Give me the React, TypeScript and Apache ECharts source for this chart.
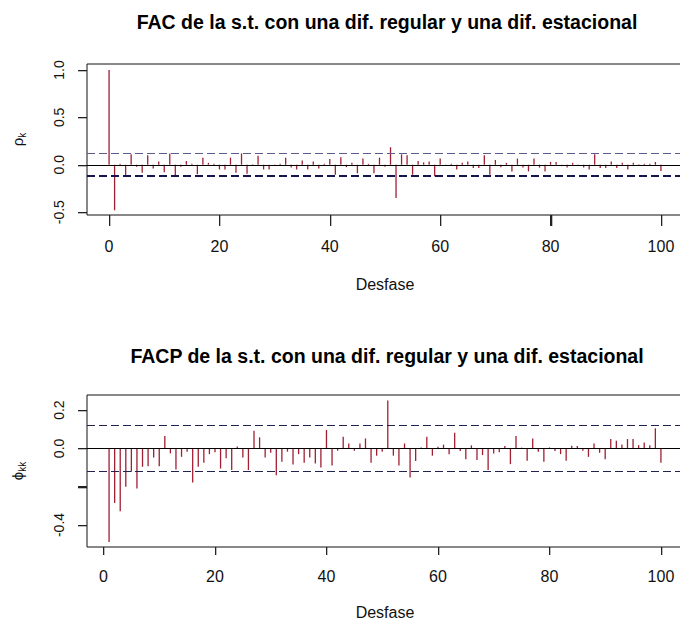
import React, { useEffect, useRef } from "react";
import * as echarts from "echarts";

const acfLags: number[] = Array.from({ length: 101 }, (_, i) => i);
const acfValues: number[] = [
  1.0, -0.48, 0.01, -0.11, 0.11, -0.02, -0.085, 0.1, -0.04, 0.035,
  -0.08, 0.12, -0.11, -0.02, 0.04, 0.01, -0.1, 0.075, 0.02, 0.01,
  -0.05, -0.05, 0.075, -0.085, 0.12, -0.095, 0.005, 0.095, -0.05, -0.05,
  -0.01, 0.01, 0.075, -0.03, -0.05, 0.045, -0.05, 0.035, -0.04, 0.01,
  0.06, -0.105, 0.08, -0.025, 0.02, -0.09, 0.065, 0.01, -0.09, 0.075,
  -0.02, 0.185, -0.35, 0.11, 0.1, -0.105, 0.04, 0.025, 0.035, -0.12,
  0.065, -0.005, 0.01, -0.05, 0.02, 0.035, -0.035, -0.035, 0.1, -0.105,
  0.05, -0.025, 0.02, -0.07, 0.065, -0.03, -0.07, 0.065, -0.03, -0.07,
  0.03, 0.03, -0.015, -0.03, 0.02, -0.01, -0.03, -0.05, 0.11, -0.035,
  -0.035, 0.035, -0.035, 0.02, -0.05, 0.02, 0.005, 0.01, 0.01, 0.03,
  -0.065,
];

const pacfLags: number[] = Array.from({ length: 100 }, (_, i) => i + 1);
const pacfValues: number[] = [
  -0.489, -0.285, -0.328, -0.2, -0.122, -0.21, -0.096, -0.093, -0.047, -0.093,
  0.065, -0.026, -0.11, -0.044, -0.017, -0.178, -0.096, -0.075, -0.03, -0.02,
  -0.105, -0.052, -0.113, 0.01, -0.047, -0.113, 0.092, 0.058, -0.047, -0.023,
  -0.14, -0.07, -0.017, -0.084, -0.03, -0.075, -0.047, -0.079, -0.1, 0.096,
  -0.089, -0.012, 0.061, 0.026, -0.012, 0.026, 0.052, -0.075, -0.038, -0.017,
  0.25, -0.038, -0.089, 0.026, -0.152, -0.066, 0.005, 0.061, -0.038, 0.009,
  0.02, -0.031, 0.082, -0.014, -0.056, 0.016, -0.061, -0.035, -0.113, -0.026,
  -0.02, 0.012, -0.082, 0.065, 0.004, -0.065, 0.052, -0.017, -0.07, 0.005,
  -0.014, -0.03, -0.065, 0.014, 0.012, -0.012, -0.044, 0.026, -0.023, -0.056,
  0.049, 0.04, 0.02, 0.049, 0.049, 0.017, 0.031, 0.017, 0.105, -0.075,
];

const xTicks: number[] = [0, 20, 40, 60, 80, 100];
const acfYTicks: number[] = [-0.5, 0, 0.5, 1];
const pacfYTicks: number[] = [-0.4, -0.2, 0, 0.2];
const pacfYLabels: number[] = [-0.4, 0, 0.2];
const confLimit = 0.12;

const titleTop = "FAC de la s.t. con una dif. regular y una dif. estacional";
const titleBottom = "FACP de la s.t. con una dif. regular y una dif. estacional";
const xName = "Desfase";

const FONT = "'Liberation Sans', Arial, sans-serif";
const BAR = "#a01f33";

const acfRange = { xMin: -4, xMax: 104, yMin: -0.53, yMax: 1.063 };
const pacfRange = { xMin: -2.96, xMax: 103.96, yMin: -0.515, yMax: 0.279 };

export default function App() {
  const ref = useRef<HTMLDivElement>(null);
  useEffect(() => {
    if (!ref.current) return;
    const chart = echarts.init(ref.current, null, { renderer: "svg" });
    const xAxisBase = (idx: number, min: number, max: number, gap: number, margin: number, len: number) => ({
      type: "value",
      gridIndex: idx,
      position: "bottom",
      min,
      max,
      name: xName,
      nameLocation: "middle",
      nameGap: gap,
      nameTextStyle: { fontFamily: FONT, fontSize: 16, color: "#111" },
      axisLine: { show: false, onZero: false },
      axisTick: { show: true, inside: false, length: len, customValues: xTicks, lineStyle: { color: "#222", width: 1 } },
      axisLabel: { customValues: xTicks, fontFamily: FONT, fontSize: 16, color: "#111", margin },
      splitLine: { show: false },
    });
    const yAxisBase = (idx: number, min: number, max: number, ticks: number[], labels: number[], name: string) => ({
      type: "value",
      gridIndex: idx,
      position: "left",
      min,
      max,
      name,
      nameLocation: "middle",
      nameRotate: 90,
      nameGap: 60,
      nameTextStyle: {
        fontFamily: FONT,
        color: "#111",
        rich: {
          a: { fontFamily: FONT, fontSize: 15, color: "#111", lineHeight: 20 },
          b: { fontFamily: FONT, fontSize: 10, color: "#111", lineHeight: 20, verticalAlign: "bottom", padding: [8, 0, 0, 0] },
        },
      },
      axisLine: { show: false, onZero: false },
      axisTick: { show: true, inside: false, length: 9, customValues: ticks, lineStyle: { color: "#222", width: 1 } },
      axisLabel: {
        customValues: labels,
        rotate: 90,
        fontFamily: FONT,
        fontSize: 14,
        color: "#111",
        margin: 21,
        formatter: (v: number) => v.toFixed(1),
      },
      splitLine: { show: false },
    });
    const hline = (y: number, color: string, width: number, type: any) => ({
      yAxis: y,
      lineStyle: { color, width, type },
    });
    chart.setOption({
      animation: false,
      backgroundColor: "#fff",
      title: [
        {
          text: titleTop,
          left: 387,
          top: 12,
          padding: 0,
          textAlign: "center",
          textStyle: { fontFamily: FONT, fontSize: 19.5, fontWeight: "bold", color: "#000" },
        },
        {
          text: titleBottom,
          left: 387,
          top: 346,
          padding: 0,
          textAlign: "center",
          textStyle: { fontFamily: FONT, fontSize: 19.5, fontWeight: "bold", color: "#000" },
        },
      ],
      grid: [
        { left: 87, top: 64, width: 596, height: 151, show: true, borderColor: "#111", borderWidth: 1, backgroundColor: "transparent", containLabel: false, outerBoundsMode: "none" },
        { left: 87, top: 395, width: 596, height: 152, show: true, borderColor: "#111", borderWidth: 1, backgroundColor: "transparent", containLabel: false, outerBoundsMode: "none" },
      ],
      xAxis: [
        xAxisBase(0, acfRange.xMin, acfRange.xMax, 61, 23, 11),
        xAxisBase(1, pacfRange.xMin, pacfRange.xMax, 57, 21, 8),
      ],
      yAxis: [
        yAxisBase(0, acfRange.yMin, acfRange.yMax, acfYTicks, acfYTicks, "{a|ρ}{b|k}"),
        yAxisBase(1, pacfRange.yMin, pacfRange.yMax, pacfYTicks, pacfYLabels, "{a|ϕ}{b|kk}"),
      ],
      series: [
        {
          type: "bar",
          xAxisIndex: 0,
          yAxisIndex: 0,
          barWidth: 1.3,
          itemStyle: { color: BAR },
          data: acfLags.map((l, i) => [l, acfValues[i]]),
          markLine: {
            silent: true,
            symbol: "none",
            label: { show: false },
            data: [
              hline(0, "#000", 1, "solid"),
              hline(confLimit, "#5b5b8f", 1, [8, 4]),
              hline(-confLimit, "#141450", 2, [8, 4]),
            ],
          },
        },
        {
          type: "bar",
          xAxisIndex: 1,
          yAxisIndex: 1,
          barWidth: 1.3,
          itemStyle: { color: BAR },
          data: pacfLags.map((l, i) => [l, pacfValues[i]]),
          markLine: {
            silent: true,
            symbol: "none",
            label: { show: false },
            data: [
              hline(0, "#000", 1, "solid"),
              hline(confLimit, "#22224f", 1, [8, 4]),
              hline(-confLimit, "#22224f", 1, [8, 4]),
            ],
          },
        },
      ],
    });

    // Axis ticks outside the plot box, placed through the chart's own scales.
    const tickMarks: any[] = [];
    const addTicks = (gridIndex: number, range: any, xt: number[], yt: number[], xLen: number, yLen: number) => {
      xt.forEach((t) => {
        const p = chart.convertToPixel({ xAxisIndex: gridIndex, yAxisIndex: gridIndex }, [t, range.yMin]) as number[];
        tickMarks.push({
          type: "rect",
          silent: true,
          z: 100,
          shape: { x: Math.round(p[0]), y: Math.round(p[1]), width: 1.3, height: xLen },
          style: { fill: "#222" },
        });
      });
      yt.forEach((t) => {
        const p = chart.convertToPixel({ xAxisIndex: gridIndex, yAxisIndex: gridIndex }, [range.xMin, t]) as number[];
        tickMarks.push({
          type: "rect",
          silent: true,
          z: 100,
          shape: { x: Math.round(p[0]) - yLen, y: Math.round(p[1]), width: yLen, height: 1.3 },
          style: { fill: "#222" },
        });
      });
    };
    addTicks(0, acfRange, xTicks, acfYTicks, 11, 9);
    addTicks(1, pacfRange, xTicks, pacfYTicks, 8, 9);
    chart.setOption({ graphic: { elements: tickMarks } });

    return () => chart.dispose();
  }, []);
  return (
    <div
      ref={ref}
      style={{ position: "fixed", left: 0, top: 0, width: 680, height: 628, background: "#fff" }}
    />
  );
}
